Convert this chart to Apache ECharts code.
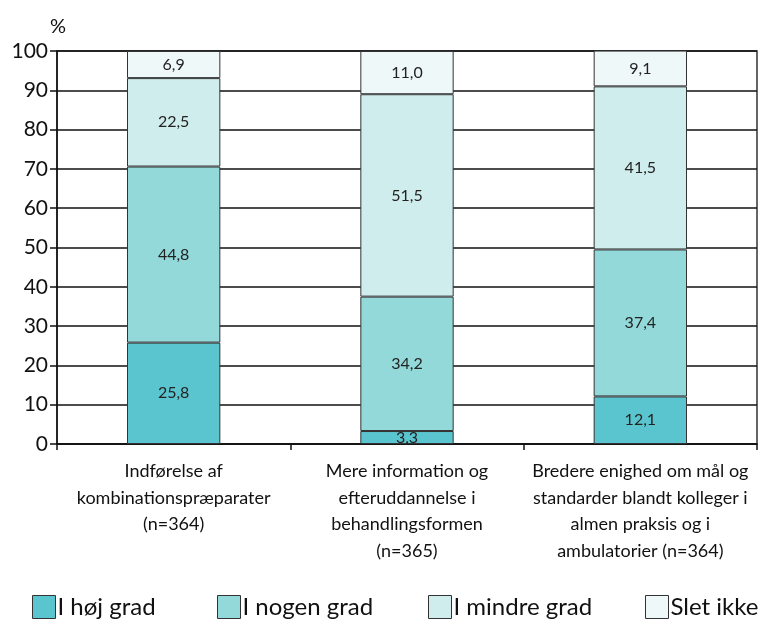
<!DOCTYPE html>
<html>
<head>
<meta charset="utf-8">
<script src="https://cdn.jsdelivr.net/npm/echarts@6/dist/echarts.min.js"></script>
<style>
  html, body { margin: 0; padding: 0; background: #fff; }
  #chart { width: 760px; height: 624px; }
</style>
</head>
<body>
<div id="chart"></div>
<script>
// Categories (x axis)
const categories = [
  'Indførelse af\nkombinationspræparater\n(n=364)',
  'Mere information og\nefteruddannelse i\nbehandlingsformen\n(n=365)',
  'Bredere enighed om mål og\nstandarder blandt kolleger i\nalmen praksis og i\nambulatorier (n=364)'
];

// Series values (percent)
const hoejGrad   = [25.8, 3.3, 12.1];
const nogenGrad  = [44.8, 34.2, 37.4];
const mindreGrad = [22.5, 51.5, 41.5];
const sletIkke   = [6.9, 11.0, 9.1];

const seriesNames = ['I høj grad', 'I nogen grad', 'I mindre grad', 'Slet ikke'];
const seriesData = [hoejGrad, nogenGrad, mindreGrad, sletIkke];
const colors = ['#5bc5cf', '#93d9da', '#cfedec', '#eff8f9'];

// Left offsets of the four legend entries
const legendLeft = [32, 217, 428, 645];

const FONT = 'Lato';

const chart = echarts.init(document.getElementById('chart'), null, { renderer: 'canvas' });

const fmt = v => v.toFixed(1).replace('.', ',');

chart.setOption({
  animation: false,
  backgroundColor: '#ffffff',
  textStyle: { fontFamily: FONT },
  grid: {
    left: 57, right: 3, top: 51, bottom: 180, containLabel: false,
    show: true, borderColor: '#333', borderWidth: 1.5, backgroundColor: 'transparent'
  },
  legend: seriesNames.map((name, i) => ({
    bottom: 5,
    left: legendLeft[i],
    itemWidth: 23,
    itemHeight: 23,
    icon: 'rect',
    padding: 0,
    textStyle: { fontSize: 24, color: '#111', fontFamily: FONT, padding: [0, 0, 0, -3] },
    itemStyle: { borderColor: '#333', borderWidth: 1 },
    data: [name]
  })),
  xAxis: {
    type: 'category',
    data: categories,
    axisLine: { show: true, lineStyle: { color: '#111', width: 1.5 } },
    axisTick: { show: true, length: 6, lineStyle: { color: '#111', width: 1.5 }, alignWithLabel: false },
    axisLabel: {
      interval: 0,
      fontSize: 18,
      lineHeight: 26.5,
      color: '#111',
      margin: 14,
      fontFamily: FONT
    },
    splitLine: { show: false }
  },
  yAxis: {
    type: 'value',
    min: 0,
    max: 100,
    interval: 10,
    name: '%',
    nameLocation: 'end',
    nameGap: 14,
    nameTextStyle: { fontSize: 20, color: '#111', align: 'left', padding: [0, 0, 0, -7], fontFamily: FONT },
    axisLine: { show: true, lineStyle: { color: '#111', width: 1.5 } },
    axisTick: { show: true, length: 7, lineStyle: { color: '#111', width: 1.5 } },
    axisLabel: { fontSize: 21, color: '#111', margin: 9, fontFamily: FONT },
    splitLine: { show: true, lineStyle: { color: '#111', width: 1.5 } }
  },
  series: seriesData.map((data, i) => ({
    name: seriesNames[i],
    type: 'bar',
    stack: 'total',
    barWidth: '40%',
    data: data,
    itemStyle: { color: colors[i], borderColor: '#333', borderWidth: 1 },
    label: {
      show: true,
      position: 'inside',
      formatter: p => fmt(p.value),
      fontSize: 16,
      color: '#222',
      fontFamily: FONT
    }
  }))
});
</script>
</body>
</html>
